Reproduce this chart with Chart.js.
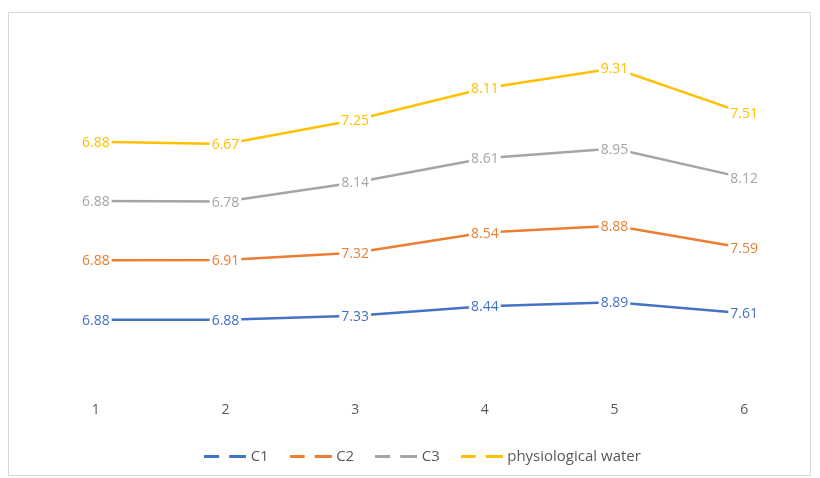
<!DOCTYPE html>
<html lang="en">

<head>
    <meta charset="UTF-8">
    <title>Stacked line chart</title>
    <style>
        * {
            margin: 0;
            padding: 0;
            box-sizing: border-box;
        }

        html,
        body {
            width: 820px;
            height: 478px;
            background: #fff;
            overflow: hidden;
        }

        .frame {
            position: absolute;
            left: 8px;
            top: 12px;
            width: 803px;
            height: 464px;
            border: 1px solid #d9d9d9;
        }

        canvas {
            position: absolute;
            left: 0;
            top: 0;
        }
    </style>
    <script src="https://cdn.jsdelivr.net/npm/chart.js"></script>
</head>

<body>
    <div class="frame"></div>
    <canvas id="chart" width="820" height="478"></canvas>

    <script>
        const categories = ['1', '2', '3', '4', '5', '6'];
        const c1 = [6.88, 6.88, 7.33, 8.44, 8.89, 7.61];
        const c2 = [6.88, 6.91, 7.32, 8.54, 8.88, 7.59];
        const c3 = [6.88, 6.78, 8.14, 8.61, 8.95, 8.12];
        const water = [6.88, 6.67, 7.25, 8.11, 9.31, 7.51];

        const FONT = '"Open Sans", Lato, sans-serif';

        // legend marker: two short dashes like excel
        function dashMarker(color) {
            const c = document.createElement('canvas');
            c.width = 42;
            c.height = 3;
            const g = c.getContext('2d');
            g.fillStyle = color;
            g.fillRect(0, 0, 15, 3);
            g.fillRect(25, 0, 17, 3);
            return c;
        }

        function series(label, data, color) {
            return {
                label: label,
                data: data,
                borderColor: color,
                backgroundColor: color,
                borderWidth: 2.5,
                pointRadius: 0,
                pointHoverRadius: 0,
                pointStyle: dashMarker(color),
                fill: false,
                tension: 0
            };
        }

        // value labels sit on the points with a white box behind them
        const valueLabels = {
            id: 'valueLabels',
            afterLayout(chart) {
                // nudge the legend a little to the right
                chart.legend.left += 4;
                chart.legend.right += 4;
            },
            afterDatasetsDraw(chart) {
                const ctx = chart.ctx;
                ctx.save();
                ctx.font = '14px ' + FONT;
                ctx.textAlign = 'center';
                ctx.textBaseline = 'middle';
                chart.data.datasets.forEach((ds, i) => {
                    const meta = chart.getDatasetMeta(i);
                    meta.data.forEach((pt, j) => {
                        const txt = ds.data[j].toFixed(2);
                        const w = ctx.measureText(txt).width;
                        ctx.fillStyle = '#fff';
                        ctx.fillRect(pt.x - w / 2 - 2, pt.y - 9, w + 4, 18);
                        ctx.fillStyle = ds.borderColor;
                        ctx.fillText(txt, pt.x, pt.y + 1);
                    });
                });
                ctx.restore();
            }
        };

        new Chart(document.getElementById('chart'), {
            type: 'line',
            data: {
                labels: categories,
                datasets: [
                    series('C1', c1, '#4472c4'),
                    series('C2', c2, '#ed7d31'),
                    series('C3', c3, '#a5a5a5'),
                    series('physiological water', water, '#ffc000')
                ]
            },
            options: {
                responsive: false,
                animation: false,
                events: [],
                layout: {
                    padding: { left: 31, right: 11, top: 34, bottom: 4 }
                },
                scales: {
                    x: {
                        offset: true,
                        grid: { display: false, drawTicks: false },
                        border: { display: false },
                        ticks: {
                            color: '#595959',
                            font: { family: FONT, size: 14 },
                            padding: 23
                        },
                        afterFit(scale) {
                            scale.height = 46;
                        }
                    },
                    y: {
                        display: false,
                        stacked: true,
                        min: 0,
                        max: 40
                    }
                },
                plugins: {
                    legend: {
                        position: 'bottom',
                        labels: {
                            usePointStyle: true,
                            pointStyleWidth: 36,
                            color: '#595959',
                            font: { family: FONT, size: 15 },
                            padding: 24
                        }
                    },
                    tooltip: { enabled: false }
                }
            },
            plugins: [valueLabels]
        });
    </script>
</body>

</html>
